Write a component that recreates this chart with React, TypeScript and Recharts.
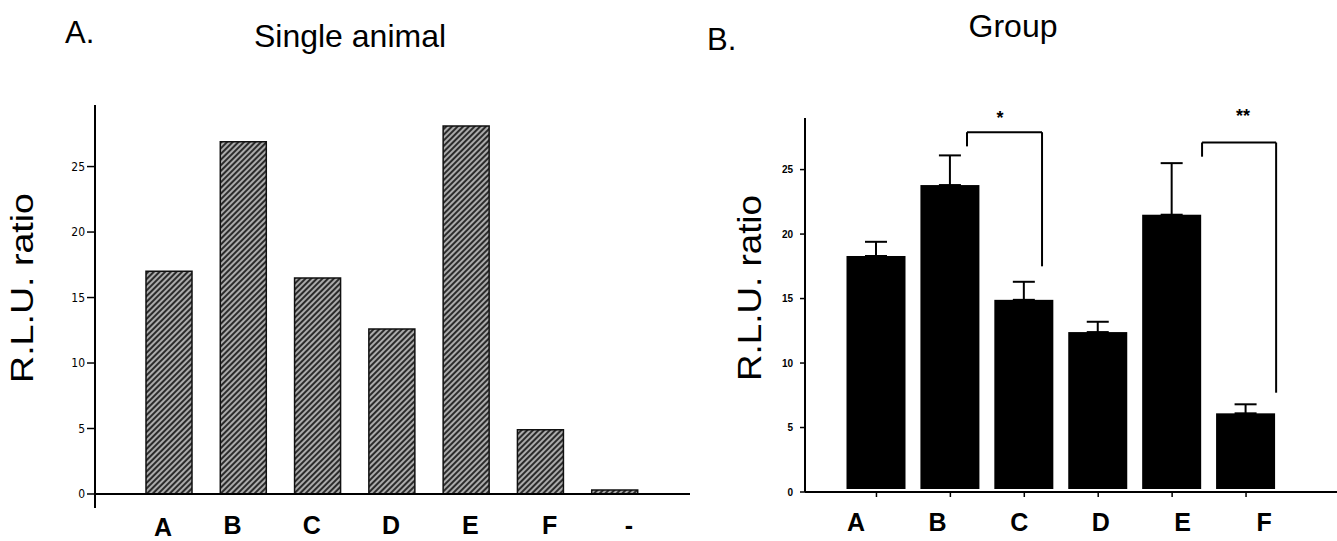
import React from 'react';
import { BarChart, Bar, XAxis, YAxis, ReferenceLine, ReferenceDot, ErrorBar } from 'recharts';

// panel A: single animal
const singleCategories = ['A', 'B', 'C', 'D', 'E', 'F', '-'];
const singleValues = [17.0, 26.9, 16.5, 12.6, 28.1, 4.9, 0.3];

// panel B: group means with upper error (SEM)
const groupCategories = ['A', 'B', 'C', 'D', 'E', 'F'];
const groupMeans = [18.3, 23.8, 14.9, 12.4, 21.5, 6.1];
const groupErrors = [1.1, 2.3, 1.4, 0.8, 4.0, 0.7];

const yTicks = [0, 5, 10, 15, 20, 25];
const groupTicks = [0, 1, 2, 3, 4, 5];

// significance brackets, x in category index units
const brackets = [
  { from: 1.225, to: 2.24, leftEnd: 26.8, top: 27.9, rightEnd: 17.5, mark: '*', markX: 1.67, markY: 29.0 },
  { from: 4.405, to: 5.407, leftEnd: 26.0, top: 27.1, rightEnd: 7.7, mark: '**', markX: 4.96, markY: 29.2 },
];

const singleData = singleCategories.map((name, i) => ({ name, value: singleValues[i] }));
const groupData = groupCategories.map((name, i) => ({ idx: i, name, mean: groupMeans[i], err: [0, groupErrors[i]] }));

const FONT = 'Arial, "Liberation Sans", Helvetica, sans-serif';
const NARROW = '"Liberation Sans Narrow", "DejaVu Sans Condensed", Arial, sans-serif';

const RluLabel = ({ cx, cy, size, len }: any) => (
  <text
    x={cx}
    y={cy}
    transform={`rotate(-90 ${cx} ${cy})`}
    textAnchor="middle"
    dominantBaseline="central"
    fontFamily={FONT}
    fontSize={size}
    textLength={len}
    lengthAdjust="spacingAndGlyphs"
    fill="#000"
  >
    R.L.U. ratio
  </text>
);

const SingleTick = (props: any) => {
  const { x, y, payload, index } = props;
  const first = index === 0;
  const dx = (index - 3) * 5 - 1 + (first ? 10 : 0);
  return (
    <text
      x={x + dx}
      y={y + (first ? 28 : 26)}
      textAnchor="middle"
      fontFamily={FONT}
      fontWeight="bold"
      fontSize={25}
      fill="#000"
    >
      {payload.value}
    </text>
  );
};

const GroupTick = (props: any) => {
  const { x, y, payload } = props;
  const i = Number(payload.value);
  const dx = (i - 2.5) * 7.7 - 1.2;
  return (
    <text x={x + dx} y={y + 34} textAnchor="middle" fontFamily={FONT} fontWeight="bold" fontSize={25} fill="#000">
      {groupCategories[i]}
    </text>
  );
};

const GroupBarShape = (props: any) => {
  const { x, y, width, height } = props;
  return <rect x={x} y={y} width={width} height={Math.max(0, height - 3)} fill="#000" />;
};

export default function App() {
  return (
    <div style={{ position: 'absolute', left: 0, top: 0, width: 1337, height: 541, background: '#fff', overflow: 'hidden' }}>
      <svg width={0} height={0} style={{ position: 'absolute' }}>
        <defs>
          <pattern id="hatch" width={4} height={4} patternUnits="userSpaceOnUse" patternTransform="rotate(45)">
            <rect width={4} height={4} fill="#ababab" />
            <line x1={1} y1={0} x2={1} y2={4} stroke="#2b2b2b" strokeWidth={2} />
          </pattern>
        </defs>
      </svg>

      <div style={{ position: 'absolute', left: 0, top: 0 }}>
        <BarChart width={690} height={541} data={singleData} margin={{ top: 105, right: 0, bottom: 0, left: 0 }} barSize={46}>
          <XAxis
            dataKey="name"
            height={33}
            axisLine={false}
            tickLine={false}
            tickSize={0}
            tickMargin={0}
            padding={{ left: 37, right: 38 }}
            tick={<SingleTick />}
            interval={0}
          />
          <YAxis
            width={95}
            domain={[-1.07, 29.7]}
            ticks={yTicks}
            allowDataOverflow
            axisLine={{ stroke: '#000', strokeWidth: 2 }}
            tickLine={{ stroke: '#000', strokeWidth: 1.5 }}
            tickSize={8}
            tickMargin={2}
            tick={{ fontSize: 12, fontFamily: NARROW, fill: '#000' }}
            label={<RluLabel cx={22} cy={288} size={31} len={190} />}
          />
          <ReferenceLine y={0} stroke="#000" strokeWidth={2} />
          <Bar dataKey="value" fill="url(#hatch)" stroke="#111" strokeWidth={1.5} isAnimationActive={false} />
        </BarChart>
      </div>

      <div style={{ position: 'absolute', left: 700, top: 0 }}>
        <BarChart width={637} height={541} data={groupData} margin={{ top: 118, right: 0, bottom: 0, left: 0 }} barSize={59}>
          <XAxis
            dataKey="idx"
            type="number"
            domain={[-0.5, 5.5]}
            ticks={groupTicks}
            allowDataOverflow
            height={49}
            axisLine={{ stroke: '#000', strokeWidth: 2 }}
            tickLine={{ stroke: '#000', strokeWidth: 1.5 }}
            tickSize={5}
            tickMargin={0}
            padding={{ left: 34.5, right: 54 }}
            tick={<GroupTick />}
            interval={0}
          />
          <YAxis
            width={105}
            domain={[0, 29]}
            ticks={yTicks}
            allowDataOverflow
            axisLine={{ stroke: '#000', strokeWidth: 2 }}
            tickLine={{ stroke: '#000', strokeWidth: 1.5 }}
            tickSize={5}
            tickMargin={7}
            tick={{ fontSize: 10, fontFamily: FONT, fontWeight: 'bold', fill: '#000' }}
            label={<RluLabel cx={49} cy={288} size={33} len={186} />}
          />
          <Bar dataKey="mean" shape={<GroupBarShape />} isAnimationActive={false}>
            <ErrorBar dataKey="err" width={11} stroke="#000" strokeWidth={2} direction="y" />
          </Bar>
          {brackets.map((b, i) => (
            <ReferenceLine
              key={`l${i}`}
              segment={[{ x: b.from, y: b.leftEnd }, { x: b.from, y: b.top }]}
              stroke="#000"
              strokeWidth={2}
              ifOverflow="visible"
            />
          ))}
          {brackets.map((b, i) => (
            <ReferenceLine
              key={`t${i}`}
              segment={[{ x: b.from, y: b.top }, { x: b.to, y: b.top }]}
              stroke="#000"
              strokeWidth={2}
              ifOverflow="visible"
            />
          ))}
          {brackets.map((b, i) => (
            <ReferenceLine
              key={`r${i}`}
              segment={[{ x: b.to, y: b.top }, { x: b.to, y: b.rightEnd }]}
              stroke="#000"
              strokeWidth={2}
              ifOverflow="visible"
            />
          ))}
          {brackets.map((b, i) => (
            <ReferenceDot
              key={`m${i}`}
              x={b.markX}
              y={b.markY}
              r={0}
              ifOverflow="visible"
              label={{ value: b.mark, position: 'center', fill: '#000', fontSize: 18, fontFamily: FONT, fontWeight: 'bold' }}
            />
          ))}
        </BarChart>
      </div>

      <svg width={1337} height={541} style={{ position: 'absolute', left: 0, top: 0, pointerEvents: 'none' }}>
        <text x={65} y={43} fontFamily={FONT} fontSize={31} fill="#000">A.</text>
        <text x={350} y={47} textAnchor="middle" fontFamily={FONT} fontSize={32} fill="#000">Single animal</text>
        <text x={707} y={50} fontFamily={FONT} fontSize={31} fill="#000">B.</text>
        <text x={1013} y={37} textAnchor="middle" fontFamily={FONT} fontSize={32} fill="#000">Group</text>
      </svg>
    </div>
  );
}
